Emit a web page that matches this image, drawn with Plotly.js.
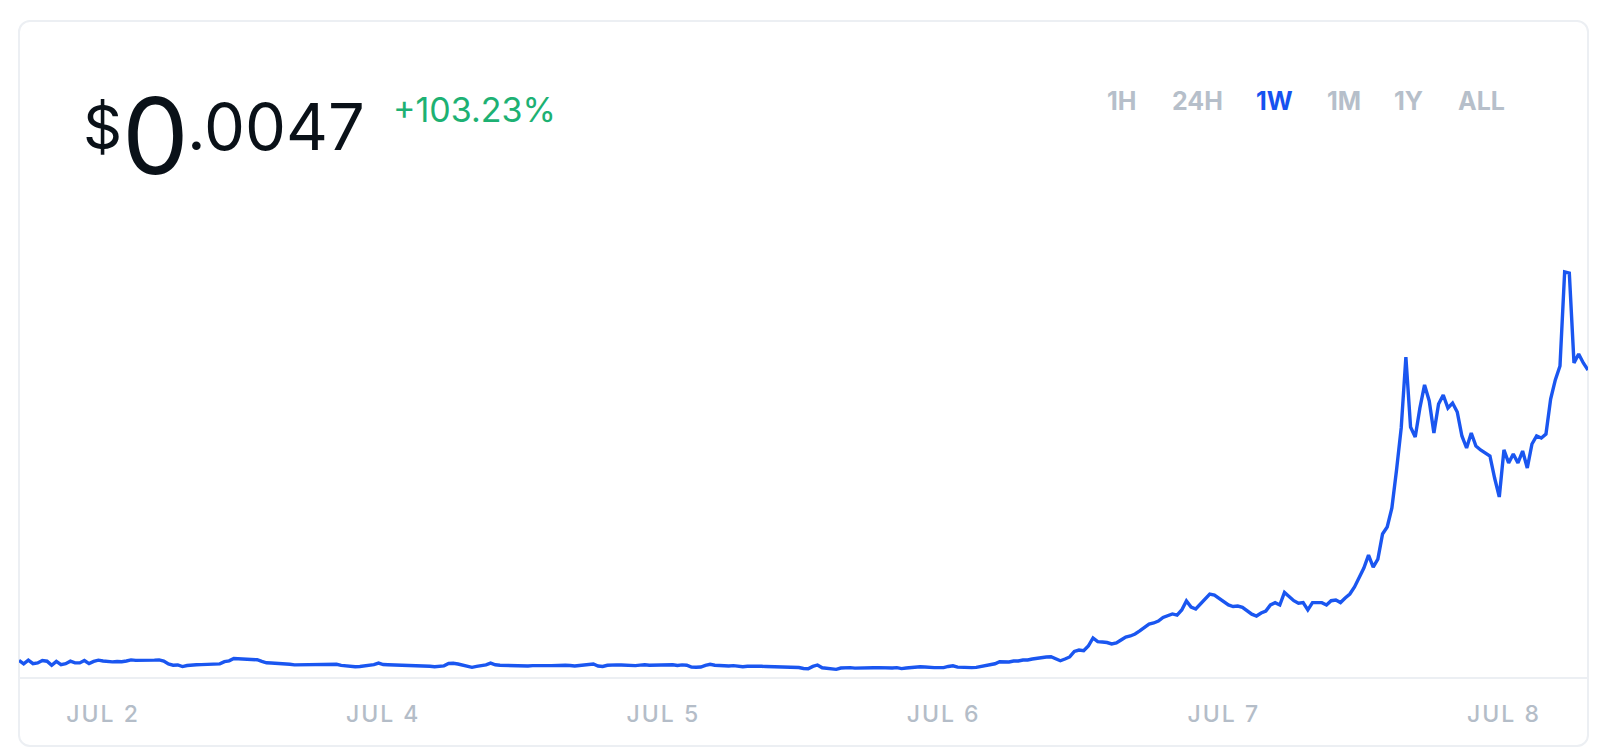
<!DOCTYPE html>
<html>
<head>
<meta charset="utf-8">
<script src="https://cdn.plot.ly/plotly-3.0.1.min.js"></script>
<style>
  html, body { margin: 0; padding: 0; background: #ffffff; }
  #card {
    position: absolute; left: 18px; top: 20px; width: 1571px; height: 727px;
    box-sizing: border-box; border: 2px solid #eceff3; border-radius: 12px;
    background: #ffffff;
  }
  #chart { position: absolute; left: 0; top: 0; width: 1602px; height: 748px; }
  .xtick text { letter-spacing: 2px; }
</style>
</head>
<body>
<div id="card"></div>
<div id="chart"></div>
<script>
// ---- data (USD price, 30-minute samples over one week) ----
const priceUSD = [
0.002309,0.002281,0.002312,0.002283,0.002289,0.002309,0.002303,0.002269,0.002301,0.002275,
0.002283,0.002303,0.002289,0.002289,0.002309,0.002283,0.002301,0.002312,0.002305,0.002301,
0.002298,0.002301,0.002299,0.002305,0.002314,0.002310,0.002309,0.002309,0.002311,0.002312,
0.002314,0.002305,0.002280,0.002270,0.002272,0.002259,0.002268,0.002273,0.002274,0.002275,
0.002276,0.002278,0.002280,0.002281,0.002299,0.002306,0.002325,0.002322,0.002319,0.002318,
0.002318,0.002315,0.002301,0.002290,0.002288,0.002287,0.002284,0.002282,0.002278,0.002273,
0.002274,0.002275,0.002277,0.002278,0.002280,0.002280,0.002282,0.002283,0.002278,0.002269,
0.002263,0.002258,0.002258,0.002260,0.002265,0.002273,0.002275,0.002288,0.002276,0.002274,
0.002273,0.002272,0.002273,0.002271,0.002270,0.002269,0.002267,0.002264,0.002261,0.002258,
0.002261,0.002265,0.002284,0.002286,0.002280,0.002273,0.002260,0.002253,0.002261,0.002265,
0.002273,0.002287,0.002274,0.002270,0.002268,0.002267,0.002264,0.002264,0.002264,0.002264,
0.002267,0.002269,0.002267,0.002267,0.002267,0.002270,0.002273,0.002270,0.002268,0.002264,
0.002268,0.002272,0.002275,0.002280,0.002264,0.002260,0.002270,0.002273,0.002273,0.002272,
0.002270,0.002269,0.002267,0.002271,0.002274,0.002270,0.002271,0.002273,0.002276,0.002280,
0.002274,0.002268,0.002273,0.002270,0.002254,0.002253,0.002255,0.002269,0.002278,0.002270,
0.002266,0.002264,0.002264,0.002267,0.002261,0.002258,0.002262,0.002264,0.002262,0.002261,
0.002259,0.002258,0.002256,0.002255,0.002255,0.002255,0.002255,0.002251,0.002243,0.002241,
0.002260,0.002272,0.002249,0.002243,0.002241,0.002236,0.002247,0.002251,0.002250,0.002246,
0.002245,0.002246,0.002247,0.002249,0.002250,0.002247,0.002244,0.002247,0.002250,0.002242,
0.002247,0.002252,0.002258,0.002257,0.002255,0.002251,0.002250,0.002250,0.002250,0.002260,
0.002265,0.002254,0.002251,0.002250,0.002250,0.002252,0.002260,0.002268,0.002276,0.002282,
0.002299,0.002297,0.002297,0.002305,0.002305,0.002313,0.002313,0.002321,0.002329,0.002334,
0.002338,0.002340,0.002321,0.002307,0.002321,0.002338,0.002383,0.002395,0.002390,0.002428,
0.002494,0.002464,0.002461,0.002457,0.002445,0.002453,0.002478,0.002502,0.002511,0.002527,
0.002552,0.002585,0.002609,0.002618,0.002634,0.002663,0.002678,0.002692,0.002683,0.002725,
0.002799,0.002749,0.002733,0.002774,0.002815,0.002856,0.002848,0.002819,0.002793,0.002766,
0.002753,0.002757,0.002747,0.002720,0.002690,0.002675,0.002700,0.002716,0.002766,0.002785,
0.002766,0.002869,0.002836,0.002801,0.002780,0.002785,0.002725,0.002785,0.002785,0.002785,
0.002766,0.002801,0.002807,0.002786,0.002823,0.002856,0.002914,0.002988,0.003070,0.003177,
0.003078,0.003144,0.003350,0.003408,0.003564,0.003877,0.004223,0.004807,0.004231,0.004149,
0.004387,0.004577,0.004445,0.004181,0.004420,0.004494,0.004387,0.004428,0.004354,0.004157,
0.004058,0.004181,0.004074,0.004042,0.004017,0.003992,0.003811,0.003655,0.004042,0.003935,
0.004009,0.003935,0.004033,0.003893,0.004091,0.004157,0.004140,0.004173,0.004461,0.004618,
0.004733,0.005507,0.005498,0.004758,0.004832,0.004758,0.004700
];
const tickLabels = ["JUL 2", "JUL 4", "JUL 5", "JUL 6", "JUL 7", "JUL 8"];
const rangeButtons = ["1H", "24H", "1W", "1M", "1Y", "ALL"];
const activeButton = "1W";
const priceDollar = "$";
const priceWhole = "0";
const priceFraction = ".0047";
const changeText = "+103.23%";

// ---- layout helpers ----
const W = 1602, H = 748;
const M = { l: 19, r: 14, t: 230, b: 71 };
const PW = W - M.l - M.r, PH = H - M.t - M.b;
const px = x => (x - M.l) / PW;
const py = y => (H - M.b - y) / PH;

const idx = priceUSD.map((_, i) => i);
const nSteps = priceUSD.length - 1;
const tickVals = tickLabels.map((_, k) => nSteps * (k + 0.3) / 5.6);

const FONT = 'Inter, "Open Sans", sans-serif';
const ink = '#0a1118';

const annotations = [
  { text: priceDollar, x: px(82), y: py(127), xanchor: 'left', yanchor: 'middle', borderpad: 0,
    font: { family: FONT, size: 61, color: ink } },
  { text: priceWhole, x: px(121), y: py(136), xanchor: 'left', yanchor: 'middle', borderpad: 0,
    font: { family: FONT, size: 106, color: ink } },
  { text: priceFraction, x: px(186), y: py(126.5), xanchor: 'left', yanchor: 'middle', borderpad: 0,
    font: { family: FONT, size: 65, color: ink } },
  { text: changeText, x: px(391), y: py(110), xanchor: 'left', yanchor: 'middle',
    font: { family: FONT, size: 34, color: '#1db173' } }
];
const btnCenters = [1121.5, 1197, 1274.5, 1343.5, 1408.5, 1481.5];
rangeButtons.forEach((b, k) => {
  annotations.push({
    text: b, x: px(btnCenters[k]), y: py(100.5), xanchor: 'center', yanchor: 'middle',
    font: { family: FONT, size: 25, weight: 700, color: b === activeButton ? '#1652f0' : '#b6bfca' }
  });
});
annotations.forEach(a => { a.xref = 'paper'; a.yref = 'paper'; a.showarrow = false; });

const trace = {
  x: idx, y: priceUSD, type: 'scatter', mode: 'lines',
  line: { color: '#1a56f0', width: 3.4, shape: 'linear' },
  hoverinfo: 'skip'
};

const layout = {
  width: W, height: H,
  margin: M,
  paper_bgcolor: 'rgba(0,0,0,0)',
  plot_bgcolor: 'rgba(0,0,0,0)',
  showlegend: false,
  xaxis: {
    range: [0, nSteps], showgrid: false, zeroline: false,
    showline: true, linecolor: '#eceff3', linewidth: 2,
    tickmode: 'array', tickvals: tickVals, ticktext: tickLabels,
    ticks: '', ticklabelstandoff: 15,
    tickfont: { family: FONT, size: 23, weight: 500, color: '#b4bdc8' }
  },
  yaxis: {
    range: [0.0021731, 0.0058523], visible: false, showgrid: false, zeroline: false
  },
  annotations: annotations
};

Plotly.newPlot('chart', [trace], layout, { displayModeBar: false, staticPlot: true });
</script>
</body>
</html>
